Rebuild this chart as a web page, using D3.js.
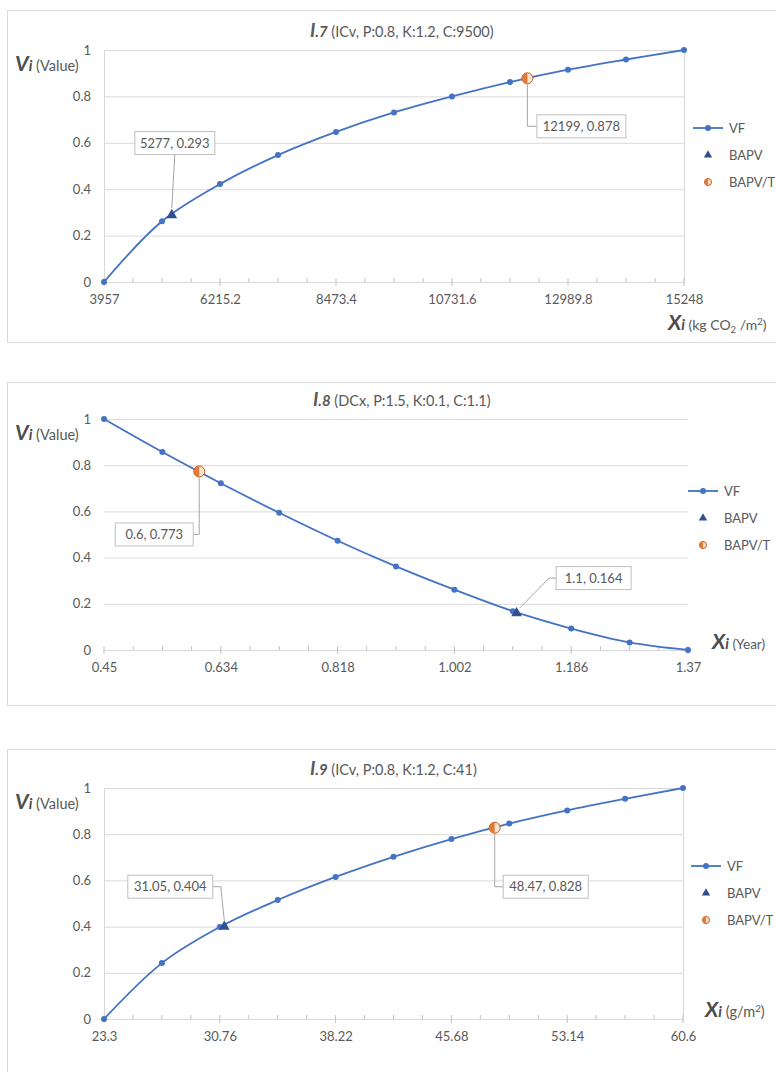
<!DOCTYPE html>
<html>
<head>
<meta charset="utf-8">
<script src="https://cdn.jsdelivr.net/npm/d3@7"></script>
<style>
body { margin: 0; background: #fff; }
</style>
</head>
<body>
<div id="chart"></div>
<script>
// shared y axis
var yTicks = [0, 0.2, 0.4, 0.6, 0.8, 1];
var yLabels = ["0", "0.2", "0.4", "0.6", "0.8", "1"];
var legendNames = ["VF", "BAPV", "BAPV/T"];

// I.7
var x7 = [3957, 5086.1, 6215.2, 7344.3, 8473.4, 9602.5, 10731.6, 11860.7, 12989.8, 14118.9, 15248];
var vf7 = [0, 0.262, 0.422, 0.547, 0.647, 0.731, 0.800, 0.862, 0.915, 0.959, 1];
var bapv7 = [5277, 0.293];
var bapvt7 = [12199, 0.878];
var ticks7 = [3957, 6215.2, 8473.4, 10731.6, 12989.8, 15248];
var tickLabels7 = ["3957", "6215.2", "8473.4", "10731.6", "12989.8", "15248"];

// I.8
var x8 = [0.45, 0.542, 0.634, 0.726, 0.818, 0.91, 1.002, 1.094, 1.186, 1.278, 1.37];
var vf8 = [1, 0.857, 0.722, 0.594, 0.473, 0.362, 0.261, 0.168, 0.093, 0.033, 0];
var bapv8 = [1.1, 0.164];
var bapvt8 = [0.6, 0.773];
var ticks8 = [0.45, 0.634, 0.818, 1.002, 1.186, 1.37];
var tickLabels8 = ["0.45", "0.634", "0.818", "1.002", "1.186", "1.37"];

// I.9
var x9 = [23.3, 27.03, 30.76, 34.49, 38.22, 41.95, 45.68, 49.41, 53.14, 56.87, 60.6];
var vf9 = [0, 0.242, 0.398, 0.515, 0.615, 0.702, 0.779, 0.846, 0.903, 0.953, 1];
var bapv9 = [31.05, 0.404];
var bapvt9 = [48.47, 0.828];
var ticks9 = [23.3, 30.76, 38.22, 45.68, 53.14, 60.6];
var tickLabels9 = ["23.3", "30.76", "38.22", "45.68", "53.14", "60.6"];

var font = "Lato, 'Open Sans', sans-serif";
var blue = "#4472c4", navy = "#2f4f8f", orange = "#e07b39", grid = "#d9d9d9", txt = "#595959";

var svg = d3.select("#chart").append("svg")
  .attr("width", 776).attr("height", 1072)
  .attr("font-family", font);

function halfCircle(g, cx, cy, r) {
  g.append("circle").attr("cx", cx).attr("cy", cy).attr("r", r)
    .attr("fill", "#fbe3d2").attr("stroke", "#c55a11").attr("stroke-width", 1);
  g.append("path")
    .attr("d", "M" + cx + "," + (cy - r) + " A" + r + "," + r + " 0 0,0 " + cx + "," + (cy + r) + " Z")
    .attr("fill", orange);
}

function drawPanel(c) {
  var g = svg.append("g");

  g.append("rect")
    .attr("x", 7.5).attr("y", c.frame[0] + 0.5)
    .attr("width", 800).attr("height", c.frame[1] - c.frame[0])
    .attr("fill", "none").attr("stroke", grid);

  var x = d3.scaleLinear().domain(d3.extent(c.xs)).range([104, c.right]);
  var y = d3.scaleLinear().domain([0, 1]).range([c.bottom, c.top]);

  // gridlines and value labels
  var ya = g.append("g").attr("transform", "translate(104,0)")
    .call(d3.axisLeft(y).tickValues(yTicks).tickSize(-(c.right - 104)).tickPadding(13)
      .tickFormat(function(d, i) { return yLabels[i]; }));
  ya.attr("font-family", font).attr("font-size", 13);
  ya.select(".domain").remove();
  ya.selectAll(".tick line").attr("stroke", grid);
  ya.selectAll(".tick text").attr("fill", txt);

  if (c.sideLines) {
    [104, c.right].forEach(function(px) {
      g.append("line").attr("x1", px + 0.5).attr("x2", px + 0.5)
        .attr("y1", c.top).attr("y2", c.bottom).attr("stroke", grid);
    });
  }

  // x axis
  var xa = g.append("g").attr("transform", "translate(0," + c.bottom + ")")
    .call(d3.axisBottom(x).tickValues(c.ticks).tickSize(0).tickPadding(13)
      .tickFormat(function(d, i) { return c.tickLabels[i]; }));
  xa.attr("font-family", font).attr("font-size", 13);
  xa.select(".domain").attr("stroke", grid);
  xa.selectAll(".tick text").attr("fill", txt);

  var step = (c.ticks[1] - c.ticks[0]) / 4;
  var minor = d3.range((c.ticks.length - 1) * 4 + 1).map(function(i) { return c.ticks[0] + i * step; });
  g.selectAll(".minor").data(minor).enter().append("line")
    .attr("x1", function(d) { return x(d); }).attr("x2", function(d) { return x(d); })
    .attr("y1", c.bottom - 4).attr("y2", function(d, i) { return i % 4 === 0 ? c.bottom + 4 : c.bottom; })
    .attr("stroke", "#bfbfbf");

  // VF line
  var pts = c.xs.map(function(d, i) { return [d, c.vf[i]]; });
  g.append("path").datum(pts)
    .attr("d", d3.line().x(function(d) { return x(d[0]); }).y(function(d) { return y(d[1]); })
      .curve(d3.curveCatmullRom.alpha(0.5)))
    .attr("fill", "none").attr("stroke", blue).attr("stroke-width", 1.8);
  g.selectAll(".dot").data(pts).enter().append("circle")
    .attr("cx", function(d) { return x(d[0]); }).attr("cy", function(d) { return y(d[1]); })
    .attr("r", 3).attr("fill", blue);

  // callouts
  c.callouts.forEach(function(o) {
    var px = x(o.at[0]), py = y(o.at[1]);
    var bx = px + o.dx, by = py + o.dy, w = o.w, h = 23;
    var path;
    if (o.side === "above") path = [[bx, by + h / 2], [px, py - 6]];
    else if (o.side === "below-right") path = [[px, py + 6], [px, by], [bx - w / 2, by]];
    else if (o.side === "below-left") path = [[px, py + 6], [px, by], [bx + w / 2, by]];
    else if (o.side === "diag-right") path = [[px + 3, py - 4], [bx - w / 2 - 7, by], [bx - w / 2, by]];
    else path = [[px, py - 5], [bx + w / 2 + 8, by], [bx + w / 2, by]];
    g.append("path").attr("d", d3.line()(path))
      .attr("fill", "none").attr("stroke", "#a6a6a6").attr("stroke-width", 1);
    g.append("rect").attr("x", bx - w / 2).attr("y", by - h / 2).attr("width", w).attr("height", h)
      .attr("fill", "#fff").attr("stroke", "#bfbfbf");
    g.append("text").attr("x", bx).attr("y", by + 4.5).attr("text-anchor", "middle")
      .attr("font-size", 13).attr("fill", txt).text(o.at[0] + ", " + o.at[1]);
  });

  // highlighted points
  g.append("path")
    .attr("d", d3.symbol(d3.symbolTriangle, 50)())
    .attr("transform", "translate(" + x(c.bapv[0]) + "," + (y(c.bapv[1]) + 1) + ")")
    .attr("fill", navy);
  halfCircle(g, x(c.bapvt[0]), y(c.bapvt[1]), 5.5);

  // legend
  var lx = c.legend[0], ly = c.legend[1];
  g.append("line").attr("x1", lx).attr("x2", lx + 30).attr("y1", ly).attr("y2", ly)
    .attr("stroke", blue).attr("stroke-width", 1.8);
  g.append("circle").attr("cx", lx + 15).attr("cy", ly).attr("r", 3).attr("fill", blue);
  g.append("path").attr("d", d3.symbol(d3.symbolTriangle, 30)())
    .attr("transform", "translate(" + (lx + 15) + "," + (ly + 27) + ")").attr("fill", navy);
  halfCircle(g, lx + 15, ly + 54, 3.5);
  g.selectAll(".leg").data(legendNames).enter().append("text")
    .attr("x", lx + 36)
    .attr("y", function(d, i) { return ly + 4.5 + i * 27; })
    .attr("font-size", 13).attr("fill", txt).text(function(d) { return d; });

  // title
  var t = g.append("text").attr("x", c.titleX).attr("y", c.top - 13).attr("fill", txt);
  t.append("tspan").attr("font-size", 19).attr("font-weight", "bold").attr("font-style", "italic").text("I");
  t.append("tspan").attr("font-size", 15).attr("font-weight", "bold").attr("font-style", "italic").text(c.titleNo);
  t.append("tspan").attr("font-size", 14.5).text(" " + c.titleRest);

  // value axis name
  var v = g.append("text").attr("x", 15).attr("y", c.top + 21).attr("fill", "#4d4d4d");
  v.append("tspan").attr("font-size", 21).attr("font-weight", "bold").attr("font-style", "italic").text("V");
  v.append("tspan").attr("font-size", 15).attr("font-weight", "bold").attr("font-style", "italic").text("i");
  v.append("tspan").attr("font-size", 14.5).attr("fill", txt).text(" (Value)");

  // x axis name; unit parts are [text, dy, isSmall]
  var xt = g.append("text").attr("x", c.xName[0]).attr("y", c.xName[1]).attr("fill", "#4d4d4d");
  xt.append("tspan").attr("font-size", 21).attr("font-weight", "bold").attr("font-style", "italic").text("X");
  xt.append("tspan").attr("font-size", 15).attr("font-weight", "bold").attr("font-style", "italic").text("i");
  c.unit.forEach(function(u) {
    xt.append("tspan").attr("font-size", u[2] ? c.unitSize * 0.68 : c.unitSize).attr("fill", txt)
      .attr("dy", u[1] || 0).text(u[0]);
  });
}

drawPanel({
  frame: [10, 342], top: 50, bottom: 282, right: 684, sideLines: true,
  xs: x7, vf: vf7, bapv: bapv7, bapvt: bapvt7, ticks: ticks7, tickLabels: tickLabels7,
  callouts: [
    { at: bapv7, dx: 3, dy: -71, w: 80, side: "above" },
    { at: bapvt7, dx: 54, dy: 48, w: 89, side: "below-right" }
  ],
  legend: [693, 128], titleX: 310, titleNo: ".7", titleRest: "(ICv, P:0.8, K:1.2, C:9500)",
  xName: [668, 330], unitSize: 14,
  unit: [[" (kg CO"], ["2", 3, true], [" /m", -3], ["2", -5, true], [")", 5]]
});

drawPanel({
  frame: [382, 705], top: 419, bottom: 650, right: 688, sideLines: false,
  xs: x8, vf: vf8, bapv: bapv8, bapvt: bapvt8, ticks: ticks8, tickLabels: tickLabels8,
  callouts: [
    { at: bapvt8, dx: -45, dy: 63, w: 78, side: "below-left" },
    { at: bapv8, dx: 77, dy: -34, w: 75, side: "diag-right" }
  ],
  legend: [688, 491], titleX: 313, titleNo: ".8", titleRest: "(DCx, P:1.5, K:0.1, C:1.1)",
  xName: [712, 649], unitSize: 13.5, unit: [[" (Year)"]]
});

drawPanel({
  frame: [749, 1090], top: 788, bottom: 1019, right: 683, sideLines: true,
  xs: x9, vf: vf9, bapv: bapv9, bapvt: bapvt9, ticks: ticks9, tickLabels: tickLabels9,
  callouts: [
    { at: bapv9, dx: -54, dy: -39, w: 85, side: "diag-left" },
    { at: bapvt9, dx: 51, dy: 59, w: 85, side: "below-right" }
  ],
  legend: [691, 866], titleX: 310, titleNo: ".9", titleRest: "(ICv, P:0.8, K:1.2, C:41)",
  xName: [705, 1017], unitSize: 14.5, unit: [[" (g/m"], ["2", -5, true], [")", 5]]
});
</script>
</body>
</html>
